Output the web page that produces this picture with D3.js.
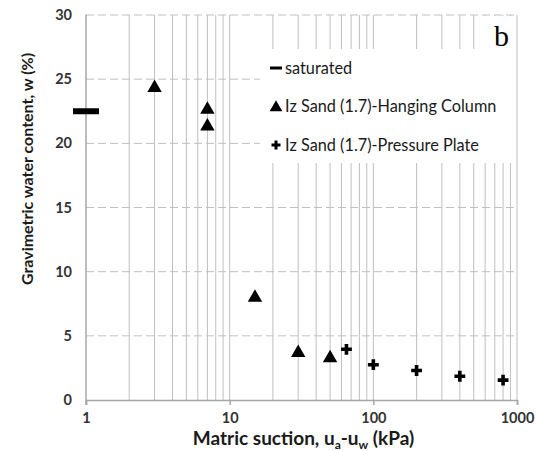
<!DOCTYPE html>
<html>
<head>
<meta charset="utf-8">
<script src="https://cdn.jsdelivr.net/npm/d3@7"></script>
<style>
  body { margin: 0; background: #fff; }
  svg { display: block; }
  text { font-family: Lato, "Open Sans", sans-serif; }
</style>
</head>
<body>
<div id="chart"></div>
<script>
// data
const satSuction = [1]
const satW = [22.5]
const hangSuction = [3, 7, 7, 15, 30, 50]
const hangW = [24.4, 22.7, 21.4, 8.05, 3.75, 3.35]
const plateSuction = [65, 100, 200, 400, 800]
const plateW = [3.95, 2.75, 2.3, 1.85, 1.55]
const yTicks = [0, 5, 10, 15, 20, 25, 30]
const xTicks = [1, 10, 100, 1000]
const legendLabels = ["saturated", "Iz Sand (1.7)-Hanging Column", "Iz Sand (1.7)-Pressure Plate"]

const margin = {top: 15, right: 19, bottom: 51, left: 86}
const W = 536, H = 451
const width = W - margin.left - margin.right
const height = H - margin.top - margin.bottom
const grid = "#bfbfbf"
const ink = "#1a1a1a"

const svg = d3.select("#chart").append("svg")
  .attr("width", W).attr("height", H)
const g = svg.append("g")
  .attr("transform", "translate(" + margin.left + "," + margin.top + ")")

const x = d3.scaleLog().domain([1, 1000]).range([0, width])
const y = d3.scaleLinear().domain([0, 30]).range([height, 0])

// vertical log gridlines (solid)
const minor = []
for (let p = 1; p < 1000; p *= 10) for (let k = 1; k < 10; k++) minor.push(p * k)
minor.push(1000)
g.append("g").selectAll("line").data(minor.filter(v => v > 1)).enter().append("line")
  .attr("x1", d => x(d)).attr("x2", d => x(d))
  .attr("y1", 0).attr("y2", height)
  .attr("stroke", grid).attr("stroke-width", 1)

// horizontal dashed gridlines
g.append("g").selectAll("line").data(yTicks.filter(v => v > 0)).enter().append("line")
  .attr("x1", 0).attr("x2", width)
  .attr("y1", d => y(d)).attr("y2", d => y(d))
  .attr("stroke", grid).attr("stroke-width", 1)
  .attr("stroke-dasharray", "8,4")

// axes
const xAxis = g.append("g")
  .attr("transform", "translate(0," + height + ")")
  .call(d3.axisBottom(x).tickValues(xTicks).tickFormat(d3.format("d")).tickSize(5).tickPadding(8))
const yAxis = g.append("g")
  .call(d3.axisLeft(y).tickValues(yTicks).tickSize(0).tickPadding(14))
;[xAxis, yAxis].forEach(a => {
  a.select(".domain").attr("stroke", "#a6a6a6").attr("stroke-width", 1.5)
  a.selectAll(".tick line").attr("stroke", "#a6a6a6").attr("stroke-width", 1.5)
  a.selectAll(".tick text")
    .attr("fill", "#333").attr("font-size", 14.5).attr("font-weight", "bold")
    .style("font-family", "Lato, sans-serif")
})
yAxis.select(".domain").attr("d", "M0,-0.5V" + (height + 5))

// panel label box and legend box (white, over the grid)
g.append("rect").attr("x", x(550)).attr("y", 1).attr("width", width - x(550) - 1).attr("height", 34)
  .attr("fill", "#fff")
g.append("text").attr("x", x(780)).attr("y", 31)
  .attr("text-anchor", "middle")
  .style("font-family", "'Liberation Serif', 'DejaVu Serif', serif")
  .attr("font-size", 30).attr("fill", "#000").text("b")

const lx = 174, ly = 34
g.append("rect").attr("x", lx).attr("y", ly).attr("width", width - lx - 1).attr("height", 114)
  .attr("fill", "#fff")

const legend = g.append("g").selectAll("g").data(legendLabels).enter().append("g")
  .attr("transform", (d, i) => "translate(" + (lx + 16) + "," + (ly + 19 + i * 38.5) + ")")
legend.append("text")
  .attr("x", 9).attr("dy", "0.35em")
  .attr("font-size", 16.3).attr("fill", ink)
  .text(d => d)
legend.filter((d, i) => i === 0).append("rect")
  .attr("x", -6).attr("y", -1.5).attr("width", 12).attr("height", 3).attr("fill", "#000")
legend.filter((d, i) => i === 1).append("path")
  .attr("d", d3.symbol(d3.symbolTriangle, 70)).attr("transform", "translate(0,1)")
  .attr("fill", "#000")
legend.filter((d, i) => i === 2).append("path")
  .attr("d", d3.symbol(d3.symbolCross, 45))
  .attr("fill", "#000")

// data marks
g.append("g").selectAll("rect").data(satSuction).enter().append("rect")
  .attr("x", d => x(d) - 13).attr("y", (d, i) => y(satW[i]) - 3)
  .attr("width", 26).attr("height", 6).attr("fill", "#000")

g.append("g").selectAll("path").data(hangSuction).enter().append("path")
  .attr("d", d3.symbol(d3.symbolTriangle, 90))
  .attr("transform", (d, i) => "translate(" + x(d) + "," + (y(hangW[i]) + 1) + ")")
  .attr("fill", "#000")

g.append("g").selectAll("path").data(plateSuction).enter().append("path")
  .attr("d", d3.symbol(d3.symbolCross, 65))
  .attr("transform", (d, i) => "translate(" + x(d) + "," + y(plateW[i]) + ")")
  .attr("fill", "#000")

// axis titles
const xt = svg.append("text")
  .attr("x", margin.left + width / 2 + 2).attr("y", 445)
  .attr("text-anchor", "middle").attr("font-size", 19).attr("font-weight", "bold").attr("fill", ink)
xt.append("tspan").text("Matric suction, u")
xt.append("tspan").attr("font-size", 12).attr("dy", 4).text("a")
xt.append("tspan").attr("dy", -4).text("-u")
xt.append("tspan").attr("font-size", 12).attr("dy", 4).text("w")
xt.append("tspan").attr("dy", -4).text(" (kPa)")

svg.append("text")
  .attr("transform", "translate(33,169) rotate(-90)")
  .attr("text-anchor", "middle").attr("font-size", 16).attr("font-weight", "bold").attr("fill", ink)
  .text("Gravimetric water content, w (%)")
</script>
</body>
</html>
